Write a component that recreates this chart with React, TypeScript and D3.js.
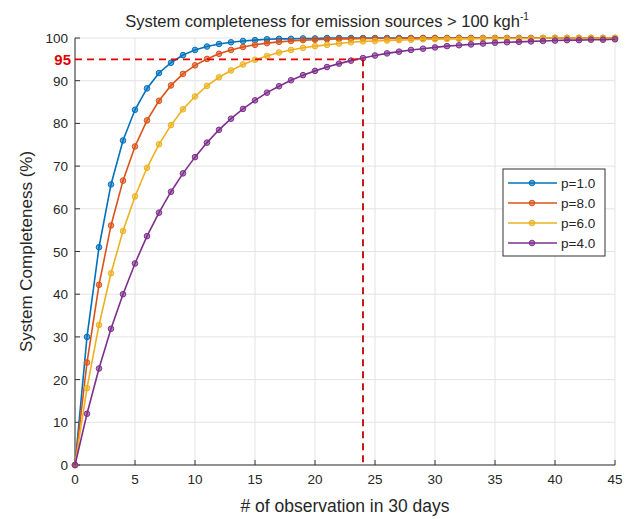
import * as React from "react";
import { scaleLinear, line, range } from "d3";

// observations 0..45
const obs = range(0, 46);

const p1 = [0, 30, 51, 65.7, 76, 83.2, 88.2, 91.8, 94.2, 96, 97.2, 98, 98.6, 99, 99.3, 99.5, 99.7, 99.8, 99.8, 99.9, 99.9, 100, 100, 100, 100, 100, 100, 100, 100, 100, 100, 100, 100, 100, 100, 100, 100, 100, 100, 100, 100, 100, 100, 100, 100, 100];
const p8 = [0, 24, 42.2, 56.1, 66.6, 74.6, 80.7, 85.3, 88.9, 91.6, 93.6, 95.1, 96.3, 97.2, 97.9, 98.4, 98.8, 99.1, 99.3, 99.5, 99.6, 99.7, 99.8, 99.8, 99.9, 99.9, 99.9, 99.9, 100, 100, 100, 100, 100, 100, 100, 100, 100, 100, 100, 100, 100, 100, 100, 100, 100, 100];
const p6 = [0, 18, 32.8, 44.9, 54.8, 62.9, 69.6, 75.1, 79.6, 83.3, 86.3, 88.8, 90.8, 92.4, 93.8, 94.9, 95.8, 96.6, 97.2, 97.7, 98.1, 98.4, 98.7, 99, 99.2, 99.3, 99.4, 99.5, 99.6, 99.7, 99.7, 99.8, 99.8, 99.8, 99.9, 99.9, 99.9, 99.9, 99.9, 100, 100, 100, 100, 100, 100, 100];
const p4 = [0, 12, 22.6, 31.9, 40, 47.2, 53.6, 59.1, 64, 68.3, 72.1, 75.5, 78.5, 81.1, 83.4, 85.4, 87.2, 88.7, 90.1, 91.3, 92.3, 93.2, 94, 94.7, 95.3, 95.9, 96.4, 96.8, 97.2, 97.5, 97.8, 98.1, 98.3, 98.5, 98.7, 98.9, 99, 99.1, 99.2, 99.3, 99.4, 99.5, 99.5, 99.6, 99.6, 99.7];

const seriesNames = ["p=1.0", "p=8.0", "p=6.0", "p=4.0"];
const seriesValues = [p1, p8, p6, p4];
const seriesColors = ["#0072BD", "#D95319", "#EDB120", "#7E2F8E"];

const xTicks = [0, 5, 10, 15, 20, 25, 30, 35, 40, 45];
const yTicks = [0, 10, 20, 30, 40, 50, 60, 70, 80, 90, 100];
const threshold = 95;
const thresholdObs = 24;

const FONT = "'Liberation Sans', Arial, sans-serif";

export default function App() {
    const W = 626, H = 519;
    const left = 75, right = 615, top = 38, bottom = 465;

    const x = scaleLinear().domain([0, 45]).range([left, right]);
    const y = scaleLinear().domain([0, 100]).range([bottom, top]);

    const lineGen = line<number>()
        .x((d, i) => x(obs[i]))
        .y(d => y(d));

    return (
        <svg width={W} height={H} style={{ position: "absolute", left: 0, top: 0, background: "#fff" }} fontFamily={FONT}>
            {/* grid */}
            {xTicks.map(t => (
                <line key={"gx" + t} x1={x(t)} x2={x(t)} y1={top} y2={bottom} stroke="#e3e3e3" strokeWidth={1} />
            ))}
            {yTicks.map(t => (
                <line key={"gy" + t} x1={left} x2={right} y1={y(t)} y2={y(t)} stroke="#e3e3e3" strokeWidth={1} />
            ))}

            {/* axes */}
            <line x1={left} x2={left} y1={top} y2={bottom} stroke="#333" strokeWidth={1} />
            <line x1={left} x2={right} y1={bottom} y2={bottom} stroke="#333" strokeWidth={1} />
            {xTicks.map(t => (
                <g key={"xt" + t}>
                    <line x1={x(t)} x2={x(t)} y1={bottom} y2={bottom - 5} stroke="#333" />
                    <text x={x(t)} y={bottom + 19} textAnchor="middle" fontSize={13.5} fill="#262626">{t}</text>
                </g>
            ))}
            {yTicks.map(t => (
                <g key={"yt" + t}>
                    <line x1={left} x2={left + 5} y1={y(t)} y2={y(t)} stroke="#333" />
                    <text x={left - 7} y={y(t) + 5} textAnchor="end" fontSize={13.5} fill="#262626">{t}</text>
                </g>
            ))}

            {/* series */}
            {seriesValues.map((vals, si) => (
                <g key={"s" + si}>
                    <path d={lineGen(vals) || ""} fill="none" stroke={seriesColors[si]} strokeWidth={1.6} />
                    {vals.map((v, i) => (
                        <circle key={i} cx={x(obs[i])} cy={y(v)} r={2.8} fill={seriesColors[si]} fillOpacity={0.6} stroke={seriesColors[si]} strokeWidth={1} />
                    ))}
                </g>
            ))}

            {/* threshold */}
            <line x1={left} x2={x(thresholdObs)} y1={y(threshold)} y2={y(threshold)} stroke="#e00000" strokeWidth={1.8} strokeDasharray="7,5" />
            <line x1={x(thresholdObs)} x2={x(thresholdObs)} y1={y(threshold)} y2={bottom} stroke="#c00000" strokeWidth={1.8} strokeDasharray="7,5" />
            <text x={left - 4} y={y(threshold) + 6} textAnchor="end" fontSize={15} fontWeight="bold" fill="#e00000">{threshold}</text>

            {/* legend */}
            <g>
                <rect x={503} y={169} width={102} height={87} fill="#fff" stroke="#333" strokeWidth={1} />
                {seriesNames.map((n, i) => {
                    const ly = 183 + i * 20;
                    return (
                        <g key={n}>
                            <line x1={508} x2={557} y1={ly} y2={ly} stroke={seriesColors[i]} strokeWidth={1.6} />
                            <circle cx={532} cy={ly} r={2.8} fill={seriesColors[i]} fillOpacity={0.6} stroke={seriesColors[i]} />
                            <text x={561} y={ly + 5} fontSize={13.5} fill="#262626">{n}</text>
                        </g>
                    );
                })}
            </g>

            {/* labels */}
            <text x={327} y={27} textAnchor="middle" fontSize={16.5} fill="#262626">
                System completeness for emission sources &gt; 100 kgh<tspan dy={-7} fontSize={10}>-1</tspan>
            </text>
            <text x={345} y={512} textAnchor="middle" fontSize={17.5} fill="#262626"># of observation in 30 days</text>
            <text transform={`translate(32, ${(top + bottom) / 2}) rotate(-90)`} textAnchor="middle" fontSize={17} fill="#262626">System Completeness (%)</text>
        </svg>
    );
}
